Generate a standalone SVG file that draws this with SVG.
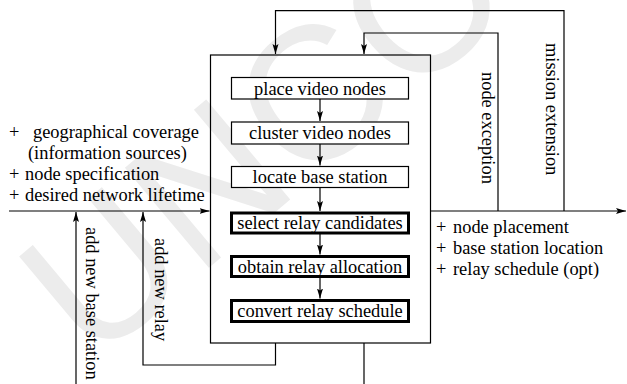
<svg xmlns="http://www.w3.org/2000/svg" width="627" height="384" viewBox="0 0 627 384">
<style>
text{font-family:"Liberation Serif","Times New Roman",serif;font-size:18.4px;fill:#000}
.c{text-anchor:middle}
.b{fill:#fff;stroke:#000;stroke-width:1.2}
.t{fill:#fff;stroke:#000;stroke-width:3}
.ln{fill:none;stroke:#000;stroke-width:1.2}
.wm{font-family:"Liberation Sans",Arial,sans-serif;font-size:190px;fill:#ececec}
</style>
<defs>
<marker id="a" markerUnits="userSpaceOnUse" markerWidth="12" markerHeight="10" refX="10" refY="5" orient="auto">
<path d="M0,2 L10,5 L0,8 L2,5 z" fill="#000"/>
</marker>
</defs>
<rect width="627" height="384" fill="#fff"/>
<text class="wm" transform="translate(92,366) rotate(-40)">UNCORRECTED PROOF</text>
<g id="frame"><rect class="b" x="210.5" y="55" width="220" height="288" fill-opacity="0"/></g>
<g id="connectors">
<path class="ln" d="M564,211 V10.7 H275.5 V54" marker-end="url(#a)"/>
<path class="ln" d="M498,211 V33 H364 V54" marker-end="url(#a)"/>
<path class="ln" d="M430.5,211 H626" marker-end="url(#a)"/>
<path class="ln" d="M9,211 H209.5" marker-end="url(#a)"/>
<path class="ln" d="M76,384 V212" marker-end="url(#a)"/>
<path class="ln" d="M275.5,343 V365 H143 V212" marker-end="url(#a)"/>
<path class="ln" d="M364,343 V384"/>
<path class="ln" d="M320,99 V121" marker-end="url(#a)"/>
<path class="ln" d="M320,144 V165.5" marker-end="url(#a)"/>
<path class="ln" d="M320,187.5 V211" marker-end="url(#a)"/>
<path class="ln" d="M320,234 V254.5" marker-end="url(#a)"/>
<path class="ln" d="M320,278 V298.5" marker-end="url(#a)"/>
</g>
<g id="n1"><rect class="b" x="231.5" y="77.5" width="177" height="21.5"/><text class="c" x="320" y="94.5">place video nodes</text></g>
<g id="n2"><rect class="b" x="231.5" y="122" width="177" height="22"/><text class="c" x="320" y="139">cluster video nodes</text></g>
<g id="n3"><rect class="b" x="231.5" y="166.5" width="177" height="21"/><text class="c" x="320" y="183">locate base station</text></g>
<g id="n4"><rect class="t" x="231.5" y="213" width="177" height="20"/><text class="c" x="320" y="229">select relay candidates</text></g>
<g id="n5"><rect class="t" x="231.5" y="256.5" width="177" height="20"/><text class="c" x="320" y="272.5">obtain relay allocation</text></g>
<g id="n6"><rect class="t" x="231.5" y="300.5" width="177" height="21"/><text class="c" x="320" y="317">convert relay schedule</text></g>
<g id="inputs">
<text x="9" y="138">+</text><text x="33" y="138">geographical coverage</text>
<text x="28" y="159">(information sources)</text>
<text x="9" y="180">+</text><text x="25" y="180">node specification</text>
<text x="9" y="201">+</text><text x="25" y="201">desired network lifetime</text>
</g>
<g id="outputs">
<text x="436" y="233">+</text><text x="453" y="233">node placement</text>
<text x="436" y="254">+</text><text x="453" y="254">base station location</text>
<text x="436" y="275">+</text><text x="453" y="275">relay schedule (opt)</text>
</g>
<g id="labels">
<text transform="translate(482,72) rotate(90)">node exception</text>
<text transform="translate(546,43) rotate(90)">mission extension</text>
<text transform="translate(86,227) rotate(90)">add new base station</text>
<text transform="translate(155,238) rotate(90)">add new relay</text>
</g>
</svg>
